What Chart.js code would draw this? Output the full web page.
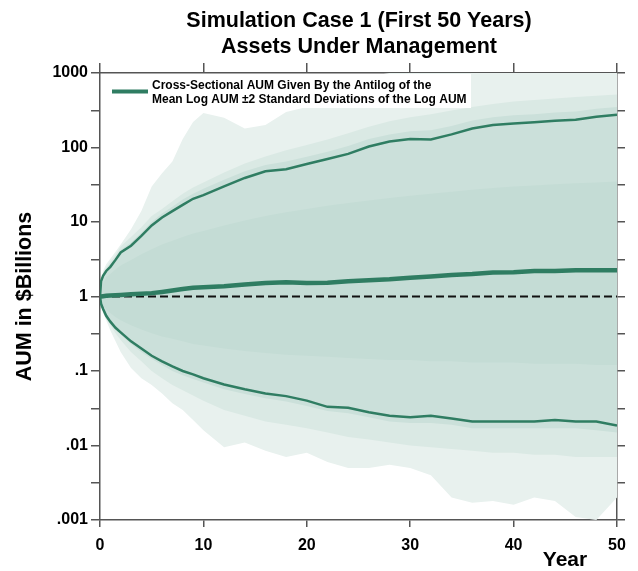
<!DOCTYPE html>
<html>
<head>
<meta charset="utf-8">
<script src="https://cdn.jsdelivr.net/npm/chart.js@4/dist/chart.umd.min.js"></script>
<style>
  html, body { margin: 0; padding: 0; background: #fff; }
</style>
</head>
<body>
<canvas id="aum" width="638" height="571"></canvas>
<script>
// years sampled along the horizontal axis
var years = [0, 0.1, 0.3, 0.6, 1, 1.5, 2, 3, 4, 5, 6, 7, 8, 9, 10,
  12, 14, 16, 18, 20, 22, 24, 26, 28, 30, 32, 34, 36, 38, 40, 42, 44, 46, 48, 50];

// antilog of mean log AUM and +/- 2 sd ($ billions)
var meanAum = [1, 1, 1.01, 1.02, 1.03, 1.04, 1.05, 1.07, 1.09, 1.11, 1.15, 1.2, 1.26, 1.31, 1.33,
  1.37, 1.45, 1.52, 1.55, 1.52, 1.53, 1.6, 1.65, 1.7, 1.78, 1.85, 1.95, 2.0, 2.1, 2.12, 2.2, 2.2, 2.25, 2.25, 2.25];
var upperAum = [1, 1.6, 1.9, 2.2, 2.5, 3.1, 3.9, 4.8, 6.5, 9, 11.5, 14, 17, 20.5, 23,
  30, 39, 48, 51, 60, 70, 82, 103, 120, 130, 128, 150, 180, 200, 210, 218, 228, 235, 258, 275];
var lowerAum = [1, 0.8, 0.68, 0.55, 0.46, 0.38, 0.33, 0.25, 0.2, 0.16, 0.135, 0.115, 0.1, 0.09, 0.08,
  0.066, 0.057, 0.05, 0.046, 0.04, 0.033, 0.032, 0.028, 0.025, 0.024, 0.025, 0.023, 0.021, 0.021, 0.021, 0.021, 0.022, 0.021, 0.021, 0.0185];

// cloud of simulated paths: solid core, busy band round the 2 sd lines,
// thinner paths beyond them, and the outermost paths
var coreHi = [1, 1.3, 1.5, 1.8, 2.0, 2.3, 2.6, 3.1, 3.7, 4.3, 5, 5.6, 6.3, 7, 7.6,
  9, 10.5, 12, 13.5, 15, 16.5, 18, 19.5, 21, 22.5, 24, 25.5, 27, 28.5, 30, 31, 32, 33, 34, 35];
var coreLo = [1, 0.85, 0.76, 0.67, 0.6, 0.53, 0.48, 0.41, 0.36, 0.32, 0.29, 0.27, 0.25, 0.23, 0.22,
  0.2, 0.185, 0.175, 0.165, 0.16, 0.155, 0.15, 0.145, 0.14, 0.14, 0.135, 0.135, 0.13, 0.13, 0.13, 0.125, 0.125, 0.125, 0.12, 0.12];
var midHi = [1, 1.65, 2.0, 2.3, 2.7, 3.3, 4.2, 5.3, 7.2, 10, 13, 16, 20, 24, 28,
  37, 48, 58, 65, 75, 88, 105, 130, 150, 165, 170, 195, 230, 255, 270, 280, 295, 305, 330, 350];
var midLo = [1, 0.79, 0.66, 0.53, 0.44, 0.36, 0.31, 0.23, 0.18, 0.145, 0.12, 0.1, 0.088, 0.078, 0.07,
  0.057, 0.049, 0.043, 0.039, 0.034, 0.029, 0.027, 0.024, 0.021, 0.02, 0.02, 0.019, 0.017, 0.017, 0.017, 0.017, 0.017, 0.017, 0.016, 0.015];
var sparseHi = [1, 1.65, 2.05, 2.45, 2.9, 3.6, 4.7, 6.3, 8.5, 12, 15, 19, 24, 29, 34,
  46, 61, 76, 92, 108, 128, 155, 190, 225, 255, 280, 315, 350, 385, 415, 435, 455, 475, 495, 515];
var sparseLo = [1, 0.77, 0.62, 0.5, 0.41, 0.32, 0.26, 0.18, 0.135, 0.1, 0.08, 0.065, 0.055, 0.047, 0.04,
  0.03, 0.025, 0.021, 0.019, 0.017, 0.015, 0.013, 0.012, 0.011, 0.01, 0.0095, 0.009, 0.0085, 0.008, 0.008, 0.0075, 0.0075, 0.007, 0.007, 0.007];
var outerHi = [1, 1.7, 2.2, 2.7, 3.2, 4, 5, 8, 14, 30, 45, 65, 130, 220, 290,
  250, 180, 200, 300, 350, 500, 650, 900, 1000, 1000, 1000, 1000, 1000, 1000, 1000, 1000, 1000, 1000, 1000, 1000];
var outerLo = [1, 0.75, 0.6, 0.48, 0.35, 0.25, 0.18, 0.11, 0.08, 0.065, 0.05, 0.037, 0.03, 0.022, 0.016,
  0.0095, 0.011, 0.0085, 0.007, 0.008, 0.006, 0.005, 0.005, 0.0055, 0.005, 0.004, 0.002, 0.0017, 0.0018, 0.0016, 0.002, 0.0018, 0.0011, 0.001, 0.002];

// axis ticks
var xTicks = [0, 10, 20, 30, 40, 50];
var yTicks = [0.001, 0.01, 0.1, 1, 10, 100, 1000];
var yTickLabels = ['.001', '.01', '.1', '1', '10', '100', '1000'];
var yMinorTicks = [0.00316, 0.0316, 0.316, 3.16, 31.6, 316];

var titleLines = ['Simulation Case 1 (First 50 Years)', 'Assets Under Management'];
var legendLines = ['Cross-Sectional AUM Given By the Antilog of the',
  'Mean Log AUM \u00b12 Standard Deviations of the Log AUM'];

var green = '#2f7d62';
var axisGray = '#555';
var fontFam = '"Liberation Sans", Arial, Helvetica, sans-serif';

function pts(vals){
  var out = [];
  for(var i = 0; i < years.length; i++){
    out.push({x: years[i], y: vals[i]});
  }
  return out;
}

function band(vals, color){
  return {
    data: pts(vals),
    borderColor: 'transparent',
    borderWidth: 0,
    backgroundColor: color,
    fill: color ? '+1' : false,
    pointRadius: 0,
    tension: 0
  };
}

function setLogTicks(s){
  var all = yTicks.concat(yMinorTicks).sort(function(a, b){ return a - b; });
  s.ticks = all.map(function(v){ return {value: v}; });
}

function setXTicks(s){
  s.ticks = xTicks.map(function(v){ return {value: v}; });
}

var textPlugin = {
  id: 'texts',
  afterDatasetsDraw: function(chart){
    var ctx = chart.ctx;
    ctx.save();
    // legend box
    ctx.fillStyle = '#fff';
    ctx.fillRect(101, 74, 370, 34);
    ctx.strokeStyle = green;
    ctx.lineWidth = 4;
    ctx.beginPath();
    ctx.moveTo(112, 91.5);
    ctx.lineTo(148, 91.5);
    ctx.stroke();
    ctx.fillStyle = '#000';
    ctx.font = 'bold 12px ' + fontFam;
    ctx.textAlign = 'left';
    ctx.textBaseline = 'alphabetic';
    ctx.fillText(legendLines[0], 152, 89.3);
    ctx.fillText(legendLines[1], 152, 103.3);
    ctx.restore();
  },
  afterDraw: function(chart){
    var ctx = chart.ctx;
    ctx.save();
    ctx.fillStyle = '#000';
    ctx.textAlign = 'center';
    ctx.textBaseline = 'alphabetic';
    ctx.font = 'bold 21.5px ' + fontFam;
    ctx.fillText(titleLines[0], 359, 26.5);
    ctx.fillText(titleLines[1], 359, 52.5);
    ctx.font = 'bold 21px ' + fontFam;
    ctx.fillText('Year', 565, 566);
    ctx.restore();
  }
};

var ctx = document.getElementById('aum');
var chart = new Chart(ctx, {
  type: 'line',
  data: {
    datasets: [
      { data: pts(meanAum), borderColor: green, borderWidth: 4.5, pointRadius: 0, fill: false, tension: 0 },
      { data: pts(upperAum), borderColor: green, borderWidth: 2.5, pointRadius: 0, fill: false, tension: 0 },
      { data: pts(lowerAum), borderColor: green, borderWidth: 2.5, pointRadius: 0, fill: false, tension: 0 },
      { data: [{x: 0, y: 1}, {x: 50, y: 1}], borderColor: '#111', borderWidth: 2, borderDash: [8, 4], pointRadius: 0, fill: false },
      band(coreHi, '#c4dcd5'),
      band(coreLo),
      band(midHi, '#cbe0da'),
      band(midLo),
      band(sparseHi, '#dae9e4'),
      band(sparseLo),
      band(outerHi, '#e8f1ee'),
      band(outerLo)
    ]
  },
  options: {
    responsive: false,
    animation: false,
    layout: { padding: { top: 63, left: 0, right: 0, bottom: 0 } },
    plugins: {
      legend: { display: false },
      tooltip: { enabled: false },
      title: { display: false }
    },
    scales: {
      x: {
        type: 'linear', position: 'bottom', min: 0, max: 50,
        afterBuildTicks: setXTicks,
        afterFit: function(s){ s.height = 51; },
        ticks: { color: '#000', padding: 9, font: { family: fontFam, size: 16, weight: 'bold' }, maxRotation: 0 },
        grid: { drawOnChartArea: false, tickLength: 7, color: axisGray, lineWidth: 1.5 },
        border: { color: axisGray, width: 1.5 }
      },
      x2: {
        type: 'linear', position: 'top', min: 0, max: 50,
        afterBuildTicks: setXTicks,
        afterFit: function(s){ s.height = 10; },
        ticks: { display: false },
        grid: { drawOnChartArea: false, tickLength: 10, color: axisGray, lineWidth: 1.5 },
        border: { color: axisGray, width: 1.5 }
      },
      y: {
        type: 'logarithmic', position: 'left', min: 0.001, max: 1000,
        afterBuildTicks: setLogTicks,
        afterFit: function(s){ s.width = 100; },
        ticks: {
          color: '#000', padding: 3, autoSkip: false,
          font: { family: fontFam, size: 16, weight: 'bold' },
          callback: function(v){
            var i = yTicks.indexOf(v);
            return i >= 0 ? yTickLabels[i] : '';
          }
        },
        grid: { drawOnChartArea: false, tickLength: 9, color: axisGray, lineWidth: 1.5 },
        border: { color: axisGray, width: 1.5 },
        title: {
          display: true, text: 'AUM in $Billions', color: '#000',
          font: { family: fontFam, size: 21.5, weight: 'bold' },
          padding: { top: 12, bottom: 0 }
        }
      },
      y2: {
        type: 'logarithmic', position: 'right', min: 0.001, max: 1000,
        afterBuildTicks: setLogTicks,
        afterFit: function(s){ s.width = 21; },
        ticks: { display: false },
        grid: { drawOnChartArea: false, tickLength: 8, color: axisGray, lineWidth: 1.5 },
        border: { color: axisGray, width: 1.5 }
      }
    }
  },
  plugins: [textPlugin]
});
</script>
</body>
</html>
